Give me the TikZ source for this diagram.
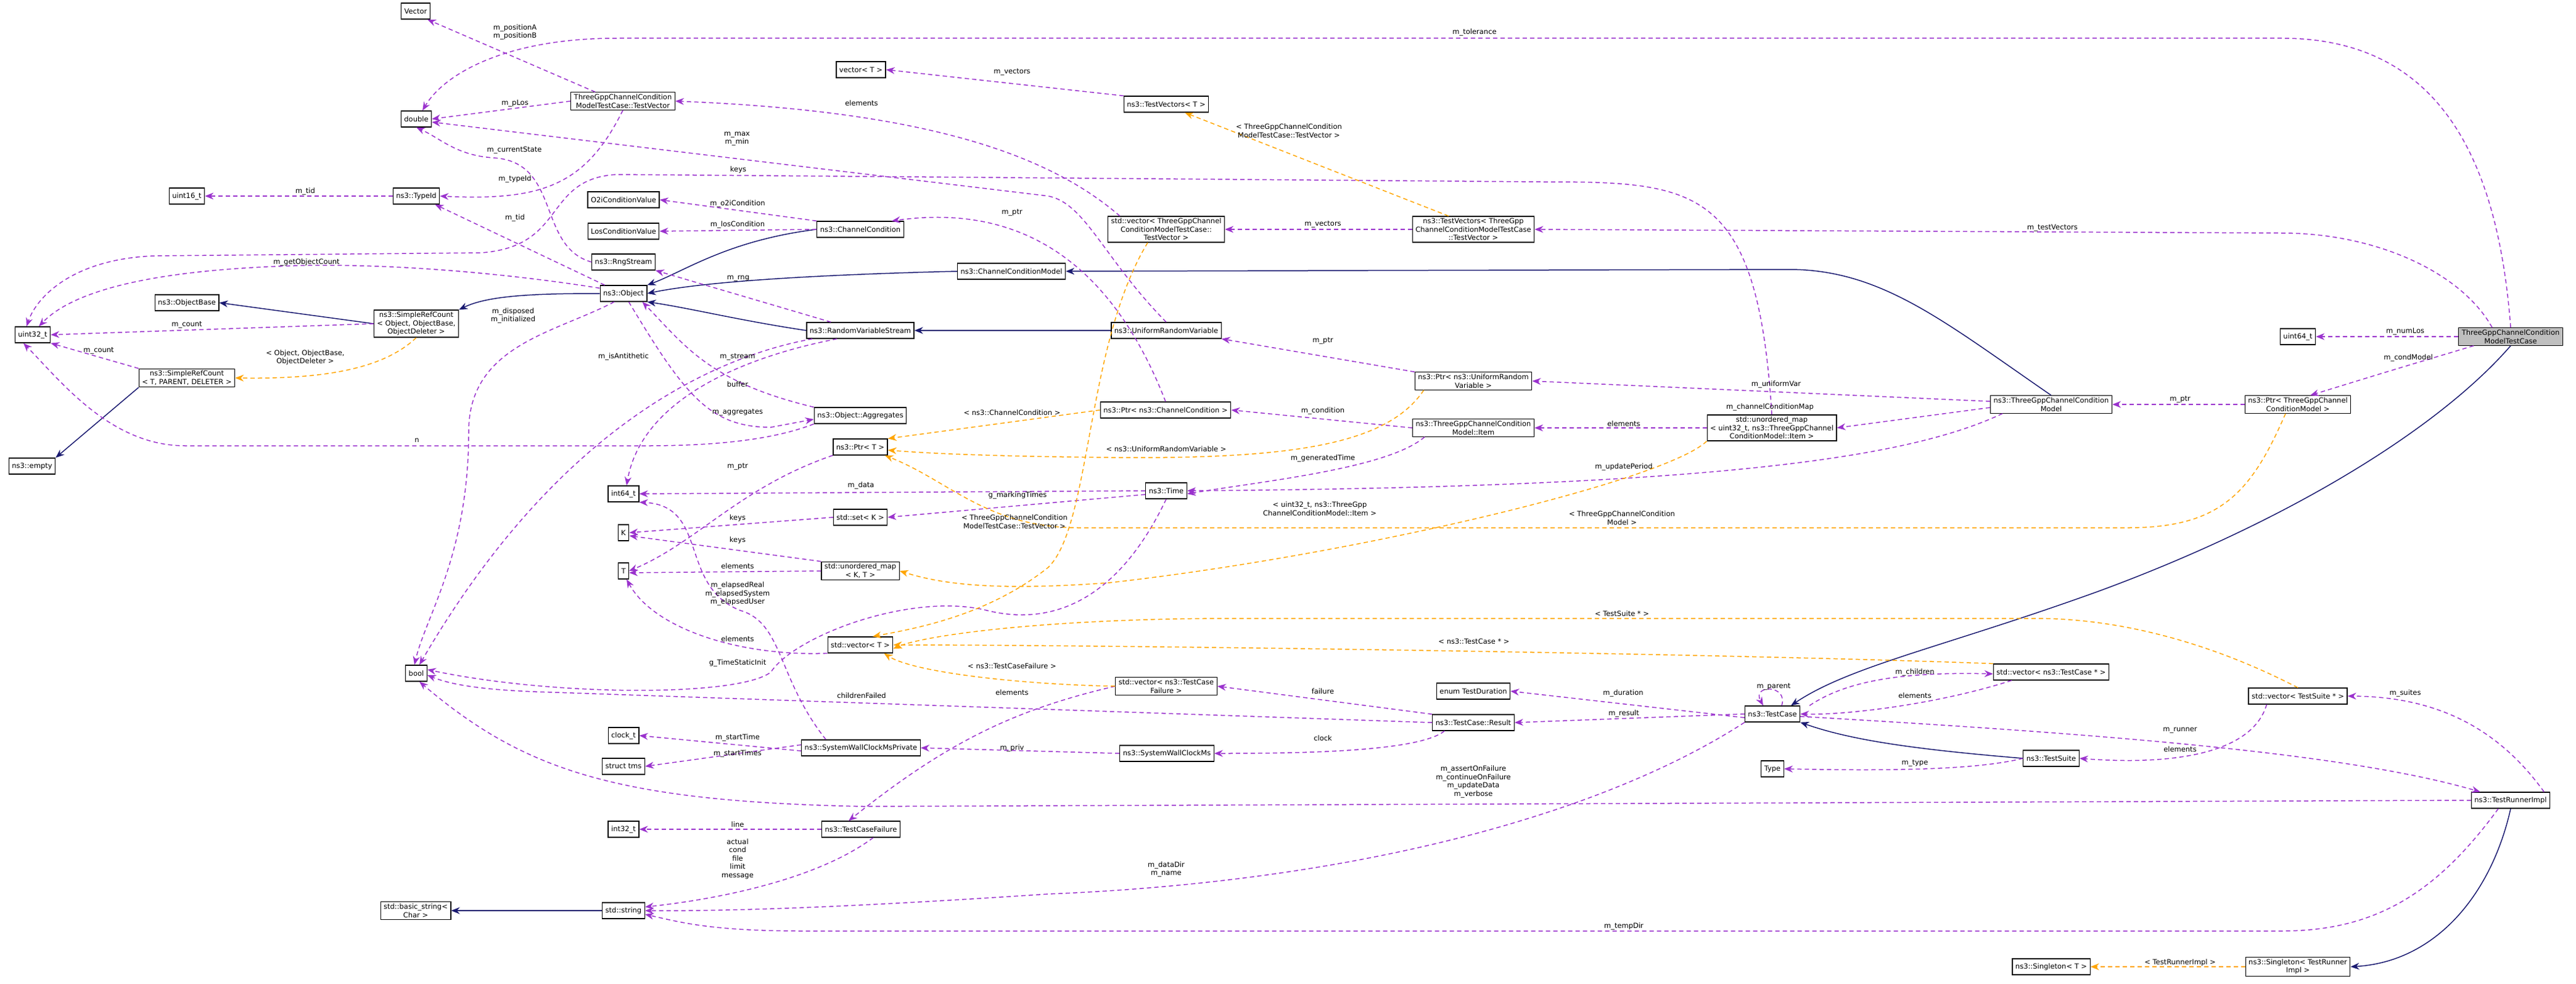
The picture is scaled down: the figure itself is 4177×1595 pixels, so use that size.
\documentclass[tikz,border=0pt]{standalone}
\usepackage{fontspec}
\setmainfont{DejaVu Sans}
\usetikzlibrary{arrows.meta}
\definecolor{purp}{RGB}{154,50,205}
\definecolor{orng}{RGB}{255,165,0}
\definecolor{navy}{RGB}{25,25,112}
\definecolor{hlgray}{RGB}{191,191,191}

\begin{document}
\begin{tikzpicture}[x=1pt, y=-1pt,
       cls/.style={draw, line width=1.2pt, fill=white, font=\fontsize{11.5}{13.5}\selectfont,
         align=center, inner xsep=5pt, inner ysep=3pt, minimum height=26pt},
       hl/.style={cls, fill=hlgray},
       lb/.style={font=\fontsize{11.5}{13.5}\selectfont, align=center, inner sep=1pt},
       mem/.style={draw=purp, dashed, dash pattern=on 7pt off 5pt, line width=1.5pt,
         -{Stealth[length=14pt, width=11pt]}},
       tpl/.style={mem, draw=orng},
       inh/.style={draw=navy, line width=1.5pt, -{Stealth[length=14pt, width=11pt]}}]
     \useasboundingbox (0,0) rectangle (4177,1595);
     % classes
     \node[cls] (vec) at (674,18) {Vector};
     \node[cls] (dbl) at (675,193) {double};
     \node[cls] (tv) at (1010,164) {ThreeGppChannelCondition\\ModelTestCase::TestVector};
     \node[cls] (u16) at (303,318) {uint16\_t};
     \node[cls] (tid) at (675,318) {ns3::TypeId};
     \node[cls] (o2i) at (1011,324) {O2iConditionValue};
     \node[cls] (los) at (1011,375) {LosConditionValue};
     \node[cls] (cc) at (1395,372) {ns3::ChannelCondition};
     \node[cls] (rng) at (1011,425) {ns3::RngStream};
     \node[cls] (obj) at (1011,476) {ns3::Object};
     \node[cls] (ob) at (303,491) {ns3::ObjectBase};
     \node[cls] (srco) at (675,525) {ns3::SimpleRefCount\\< Object, ObjectBase,\\ObjectDeleter >};
     \node[cls] (u32) at (53,543) {uint32\_t};
     \node[cls] (rvs) at (1395,536) {ns3::RandomVariableStream};
     \node[cls] (srct) at (303,613) {ns3::SimpleRefCount\\< T, PARENT, DELETER >};
     \node[cls] (emp) at (52,756) {ns3::empty};
     \node[cls] (aggs) at (1395,674) {ns3::Object::Aggregates};
     \node[cls] (i64) at (1011,801) {int64\_t};
     \node[cls] (k) at (1011,864) {K};
     \node[cls] (t) at (1011,926) {T};
     \node[cls] (bool) at (675,1092) {bool};
     \node[cls] (pt) at (1395,725) {ns3::Ptr< T >};
     \node[cls] (set) at (1395,839) {std::set< K >};
     \node[cls] (ukt) at (1395,926) {std::unordered\_map\\< K, T >};
     \node[cls] (vt) at (1395,1046) {std::vector< T >};
     \node[cls] (pcc) at (1890,665) {ns3::Ptr< ns3::ChannelCondition >};
     \node[cls] (purv) at (2389,618) {ns3::Ptr< ns3::UniformRandom\\Variable >};
     \node[cls] (item) at (2389,694) {ns3::ThreeGppChannelCondition\\Model::Item};
     \node[cls] (time) at (1891,796) {ns3::Time};
     \node[cls] (umap) at (2873,694) {std::unordered\_map\\< uint32\_t, ns3::ThreeGppChannel\\ConditionModel::Item >};
     \node[cls] (vect) at (1396,113) {vector< T >};
     \node[cls] (tvst) at (1891,169) {ns3::TestVectors< T >};
     \node[cls] (vtv) at (1891,372) {std::vector< ThreeGppChannel\\ConditionModelTestCase::\\TestVector >};
     \node[cls] (tvs) at (2389,372) {ns3::TestVectors< ThreeGpp\\ChannelConditionModelTestCase\\::TestVector >};
     \node[cls] (ccm) at (1640,440) {ns3::ChannelConditionModel};
     \node[cls] (urv) at (1891,536) {ns3::UniformRandomVariable};
     \node[hl] (main) at (4071,546) {ThreeGppChannelCondition\\ModelTestCase};
     \node[cls] (u64) at (3726,546) {uint64\_t};
     \node[cls] (tgccm) at (3326,656) {ns3::ThreeGppChannelCondition\\Model};
     \node[cls] (ptg) at (3726,656) {ns3::Ptr< ThreeGppChannel\\ConditionModel >};
     \node[cls] (vtcf) at (1891,1113) {std::vector< ns3::TestCase\\Failure >};
     \node[cls] (dur) at (2389,1121) {enum TestDuration};
     \node[cls] (res) at (2389,1172) {ns3::TestCase::Result};
     \node[cls] (swp) at (1396,1213) {ns3::SystemWallClockMsPrivate};
     \node[cls] (swc) at (1892,1222) {ns3::SystemWallClockMs};
     \node[cls] (tcf) at (1396,1345) {ns3::TestCaseFailure};
     \node[cls] (clk) at (1011,1193) {clock\_t};
     \node[cls] (tms) at (1011,1243) {struct tms};
     \node[cls] (i32) at (1011,1345) {int32\_t};
     \node[cls] (str) at (1011,1477) {std::string};
     \node[cls] (bstr) at (674,1477) {std::basic\_string<\\Char >};
     \node[cls] (tc) at (2874,1158) {ns3::TestCase};
     \node[cls] (vtc) at (3326,1090) {std::vector< ns3::TestCase * >};
     \node[cls] (vts) at (3726,1129) {std::vector< TestSuite * >};
     \node[cls] (ts) at (3326,1230) {ns3::TestSuite};
     \node[cls] (type) at (2874,1247) {Type};
     \node[cls] (tri) at (4071,1298) {ns3::TestRunnerImpl};
     \node[cls] (sgt) at (3326,1568) {ns3::Singleton< T >};
     \node[cls] (sgtri) at (3726,1568) {ns3::Singleton< TestRunner\\Impl >};

     % inheritance
     \draw[inh] (cc.west) .. controls (1180,390) and (1110,440) .. (obj.north east);
     \draw[inh] (ccm.west) .. controls (1350,445) and (1150,455) .. (obj.east);
     \draw[inh] (rvs.west) .. controls (1200,520) and (1120,500) .. (obj.south east);
     \draw[inh] (urv.west) -- (rvs.east);
     \draw[inh] (obj.west) .. controls (860,476) and (790,480) .. (srco.north east);
     \draw[inh] (srco.west) -- (ob.east);
     \draw[inh] (srct.south west) -- (emp.north east);
     \draw[inh] (tgccm.north) .. controls (3150,520) and (3050,437) .. (2900,437) -- (ccm.east);
     \draw[inh] (main.south) .. controls (3950,700) and (3700,850) .. (3400,960) .. controls (3150,1050) and (3000,1080) .. ([xshift=30pt]tc.north);
     \draw[inh] (ts.west) .. controls (3100,1215) and (3000,1200) .. (tc.south east);
     \draw[inh] (tri.south) .. controls (4040,1450) and (3950,1560) .. (sgtri.east);
     \draw[inh] (str.west) -- (bstr.east);

     % members
     \draw[mem] (main.north) .. controls (4050,250) and (3950,62) .. (3700,62) -- (1000,62) .. controls (820,62) and (720,120) .. ([xshift=10pt]dbl.north);
     \draw[mem] ([xshift=-30pt]main.north) .. controls (3990,440) and (3850,378) .. (3700,378) -- (tvs.east);
     \draw[mem] (main.west) -- (u64.east);
     \draw[mem] ([xshift=-60pt]main.south) .. controls (3880,600) .. ([xshift=20pt]ptg.north);
     \draw[mem] (ptg.west) -- (tgccm.east);
     \draw[mem] ([yshift=5pt]tgccm.west) -- (purv.east);
     \draw[mem] ([yshift=-5pt]tgccm.west) -- (umap.east);
     \draw[mem] ([xshift=20pt]tgccm.south west) .. controls (3100,740) and (2800,790) .. (time.east);
     \draw[mem] (umap.west) -- (item.east);
     \draw[mem] (item.west) -- (pcc.east);
     \draw[mem] ([xshift=20pt]item.south west) .. controls (2250,760) and (2050,780) .. ([yshift=-5pt]time.east);
     \draw[mem] (pcc.north) .. controls (1800,420) and (1650,330) .. ([xshift=-20pt]cc.north east);
     \draw[mem] (purv.north west) -- (urv.south east);
     \draw[mem] (urv.north) .. controls (1790,420) and (1760,330) .. (1700,318) -- ([yshift=-5pt]dbl.east);
     \draw[mem] (tv.west) -- (dbl.east);
     \draw[mem] ([xshift=40pt]tv.north west) -- ([xshift=-5pt]vec.south east);
     \draw[mem] (tv.south) .. controls (950,300) and (880,326) .. (tid.east);
     \draw[mem] (rng.west) .. controls (870,400) and (910,262) .. (800,256) .. controls (740,252) and (715,225) .. (dbl.south);
     \draw[mem] ([xshift=8pt]obj.north west) -- ([xshift=-8pt]tid.south east);
     \draw[mem] (tid.west) -- (u16.east);
     \draw[mem] ([yshift=-5pt]obj.north west) .. controls (800,440) and (600,425) .. (450,432) .. controls (250,440) and (120,470) .. ([xshift=10pt]u32.north);
     \draw[mem] (umap.north) .. controls (2850,300) and (2750,295) .. (2500,295) -- (1000,283) .. controls (880,290) and (920,400) .. (780,410) -- (250,415) .. controls (120,420) and (60,480) .. ([xshift=-10pt]u32.north);
     \draw[mem] (srco.west) -- (u32.east);
     \draw[mem] (srct.north west) -- (u32.south east);
     \draw[mem] (aggs.south west) .. controls (1250,715) and (1150,723) .. (1050,723) -- (300,723) .. controls (180,723) and (100,620) .. ([xshift=-15pt]u32.south);
     \draw[mem] (cc.north west) -- (o2i.east);
     \draw[mem] (cc.west) -- (los.east);
     \draw[mem] ([xshift=40pt]rvs.north west) -- (rng.south east);
     \draw[mem] ([xshift=-15pt]obj.south) .. controls (900,540) and (760,560) .. (760,700) .. controls (760,900) and (690,1000) .. ([xshift=-3pt]bool.north);
     \draw[mem] ([xshift=10pt]rvs.south west) .. controls (1150,580) and (900,700) .. ([xshift=5pt]bool.north);
     \draw[mem] ([xshift=50pt]rvs.south west) .. controls (1200,580) and (1040,650) .. ([xshift=5pt]i64.north);
     \draw[mem] (aggs.north west) .. controls (1150,620) and (1110,560) .. ([xshift=-8pt]obj.south east);
     \draw[mem] ([xshift=-30pt]obj.south east) .. controls (1110,640) and (1150,693) .. (1250,693) -- ([yshift=-6pt]aggs.west);
     \draw[mem] (pt.south west) .. controls (1200,790) and (1130,880) .. (t.east);
     \draw[mem] (time.west) -- (i64.east);
     \draw[mem] ([yshift=-6pt]time.west) -- (set.east);
     \draw[mem] (set.west) -- (k.east);
     \draw[mem] (ukt.north west) -- ([yshift=-5pt]k.east);
     \draw[mem] (ukt.west) -- ([yshift=-3pt]t.east);
     \draw[mem] (vt.south west) .. controls (1200,1065) and (1060,1020) .. ([xshift=5pt]t.south);
     \draw[mem] ([xshift=40pt]swp.north west) .. controls (1260,1100) and (1270,1010) .. (1200,990) .. controls (1100,950) and (1150,820) .. (i64.south east);
     \draw[mem] (time.south) .. controls (1800,1000) and (1680,1010) .. (1600,990) .. controls (1480,960) and (1290,1030) .. (1250,1090) .. controls (1200,1130) and (900,1130) .. ([yshift=6pt]bool.east);
     \draw[mem] (res.west) -- (900,1123) .. controls (780,1120) and (730,1110) .. ([yshift=-3pt]bool.east);
     \draw[mem] (tri.west) -- (1400,1308) .. controls (1000,1300) and (850,1250) .. ([xshift=5pt]bool.south);
     \draw[mem] ([yshift=-5pt]swp.west) -- (clk.east);
     \draw[mem] ([yshift=5pt]swp.west) -- (tms.east);
     \draw[mem] (swc.west) -- (swp.east);
     \draw[mem] (vtcf.west) .. controls (1650,1150) and (1540,1200) .. ([xshift=-20pt]tcf.north);
     \draw[mem] (tcf.west) -- (i32.east);
     \draw[mem] ([xshift=20pt]tcf.south) .. controls (1320,1430) and (1150,1460) .. ([yshift=6pt]str.east);
     \draw[mem] (tc.south west) .. controls (2600,1320) and (2200,1430) .. (1700,1450) .. controls (1400,1470) and (1200,1478) .. (str.east);
     \draw[mem] ([xshift=-20pt]tri.south) .. controls (3950,1450) and (3850,1510) .. (3700,1510) -- (1300,1510) .. controls (1150,1510) and (1100,1495) .. ([yshift=-6pt]str.east);
     \draw[mem] (res.north west) -- (vtcf.east);
     \draw[mem] ([xshift=20pt]res.south west) .. controls (2300,1220) and (2100,1222) .. (swc.east);
     \draw[mem] ([yshift=-6pt]tc.west) -- (dur.east);
     \draw[mem] (tc.west) -- (res.east);
     \draw[mem] ([xshift=15pt]tc.north) .. controls (2900,1110) and (2840,1110) .. ([xshift=-15pt]tc.north);
     \draw[mem] ([xshift=15pt]tc.north east) .. controls (3000,1100) and (3100,1090) .. ([yshift=-3pt]vtc.west);
     \draw[mem] ([xshift=30pt]vtc.south west) .. controls (3150,1140) and (3000,1160) .. (tc.east);
     \draw[mem] (ts.west) .. controls (3200,1250) and (3050,1250) .. (type.east);
     \draw[mem] ([xshift=30pt]vts.south west) .. controls (3650,1230) and (3500,1240) .. (ts.east);
     \draw[mem] ([xshift=-10pt]tri.north east) .. controls (4050,1180) and (3950,1130) .. (vts.east);
     \draw[mem] ([yshift=-4pt]tc.east) .. controls (3400,1190) and (3800,1220) .. ([xshift=15pt]tri.north west);
     \draw[mem] (tvs.west) -- (vtv.east);
     \draw[mem] ([xshift=20pt]vtv.north west) .. controls (1700,250) and (1500,180) .. (tv.east);
     \draw[mem] (tvst.north west) -- (vect.east);

     % templates
     \draw[tpl] (srco.south) .. controls (620,600) and (520,615) .. (srct.east);
     \draw[tpl] ([xshift=-40pt]tvs.north) -- ([xshift=30pt]tvst.south);
     \draw[tpl] (pcc.west) -- (pt.north east);
     \draw[tpl] ([xshift=15pt]purv.south west) .. controls (2250,720) and (2100,745) .. (1800,742) .. controls (1600,740) and (1500,735) .. ([yshift=-5pt]pt.east);
     \draw[tpl] ([xshift=-20pt]ptg.south) .. controls (3650,800) and (3600,856) .. (3450,856) -- (1750,856) .. controls (1600,856) and (1540,780) .. ([xshift=-5pt]pt.south east);
     \draw[tpl] ([xshift=-30pt]vtv.south) .. controls (1760,560) and (1770,850) .. (1700,920) .. controls (1600,1000) and (1480,1020) .. ([xshift=20pt]vt.north);
     \draw[tpl] (umap.south west) .. controls (2700,780) and (2200,900) .. (1800,945) .. controls (1600,960) and (1520,945) .. (ukt.east);
     \draw[tpl] (vts.north) .. controls (3600,1050) and (3450,1003) .. (3300,1003) -- (2000,1003) .. controls (1700,1003) and (1500,1030) .. ([yshift=-6pt]vt.east);
     \draw[tpl] (vtc.north west) .. controls (2800,1060) and (1800,1046) .. (vt.east);
     \draw[tpl] (vtcf.west) .. controls (1650,1110) and (1480,1090) .. ([xshift=-15pt]vt.south east);
     \draw[tpl] (sgtri.west) -- (sgt.east);

     % labels
     \node[lb] (l1) at (2391,52) {m\_tolerance};
     \node[lb] (l2) at (835,52) {m\_positionA\\m\_positionB};
     \node[lb] (l3) at (835,168) {m\_pLos};
     \node[lb] (l4) at (1195,225) {m\_max\\m\_min};
     \node[lb] (l5) at (834,244) {m\_currentState};
     \node[lb] (l6) at (1197,275) {keys};
     \node[lb] (l7) at (835,290) {m\_typeId};
     \node[lb] (l8) at (495,310) {m\_tid};
     \node[lb] (l9) at (835,353) {m\_tid};
     \node[lb] (l10) at (1196,330) {m\_o2iCondition};
     \node[lb] (l11) at (1196,364) {m\_losCondition};
     \node[lb] (l12) at (497,425) {m\_getObjectCount};
     \node[lb] (l13) at (1197,452) {m\_rng};
     \node[lb] (l14) at (832,512) {m\_disposed\\m\_initialized};
     \node[lb] (l15) at (303,527) {m\_count};
     \node[lb] (l16) at (160,569) {m\_count};
     \node[lb] (l17) at (495,580) {< Object, ObjectBase,\\ObjectDeleter >};
     \node[lb] (l18) at (1011,578) {m\_isAntithetic};
     \node[lb] (l19) at (1196,579) {m\_stream};
     \node[lb] (l20) at (1196,623) {buffer};
     \node[lb] (l21) at (1196,669) {m\_aggregates};
     \node[lb] (l22) at (676,714) {n};
     \node[lb] (l23) at (1196,757) {m\_ptr};
     \node[lb] (l24) at (1396,787) {m\_data};
     \node[lb] (l25) at (1196,840) {keys};
     \node[lb] (l26) at (1196,876) {keys};
     \node[lb] (l27) at (1196,918) {elements};
     \node[lb] (l28) at (1196,963) {m\_elapsedReal\\m\_elapsedSystem\\m\_elapsedUser};
     \node[lb] (l29) at (1196,1036) {elements};
     \node[lb] (l30) at (1196,1075) {g\_TimeStaticInit};
     \node[lb] (l31) at (1650,803) {g\_markingTimes};
     \node[lb] (l32) at (1397,1128) {childrenFailed};
     \node[lb] (l33) at (1641,1123) {elements};
     \node[lb] (l34) at (1641,1213) {m\_priv};
     \node[lb] (l35) at (2145,1197) {clock};
     \node[lb] (l36) at (2145,1121) {failure};
     \node[lb] (l37) at (2632,1124) {m\_duration};
     \node[lb] (l38) at (2633,1157) {m\_result};
     \node[lb] (l39) at (2389,1268) {m\_assertOnFailure\\m\_continueOnFailure\\m\_updateData\\m\_verbose};
     \node[lb] (l40) at (1891,1410) {m\_dataDir\\m\_name};
     \node[lb] (l41) at (2633,1502) {m\_tempDir};
     \node[lb] (l42) at (1196,1337) {line};
     \node[lb] (l43) at (1196,1393) {actual\\cond\\file\\limit\\message};
     \node[lb] (l44) at (1196,1196) {m\_startTime};
     \node[lb] (l45) at (1196,1222) {m\_startTimes};
     \node[lb] (l46) at (1641,345) {m\_ptr};
     \node[lb] (l47) at (2145,553) {m\_ptr};
     \node[lb] (l48) at (2145,666) {m\_condition};
     \node[lb] (l49) at (2145,743) {m\_generatedTime};
     \node[lb] (l50) at (2633,687) {elements};
     \node[lb] (l51) at (2633,757) {m\_updatePeriod};
     \node[lb] (l52) at (2880,623) {m\_uniformVar};
     \node[lb] (l53) at (2870,660) {m\_channelConditionMap};
     \node[lb] (l54) at (3535,648) {m\_ptr};
     \node[lb] (l55) at (3900,538) {m\_numLos};
     \node[lb] (l56) at (3905,580) {m\_condModel};
     \node[lb] (l57) at (3328,370) {m\_testVectors};
     \node[lb] (l58) at (2145,364) {m\_vectors};
     \node[lb] (l59) at (1641,117) {m\_vectors};
     \node[lb] (l60) at (1397,167) {elements};
     \node[lb] (l61) at (2876,1114) {m\_parent};
     \node[lb] (l62) at (3105,1090) {m\_children};
     \node[lb] (l63) at (3105,1128) {elements};
     \node[lb] (l64) at (3535,1185) {m\_runner};
     \node[lb] (l65) at (3535,1215) {elements};
     \node[lb] (l66) at (3105,1238) {m\_type};
     \node[lb] (l67) at (3900,1124) {m\_suites};
     \node[lb] (l68) at (2090,212) {< ThreeGppChannelCondition\\ModelTestCase::TestVector >};
     \node[lb] (l69) at (1641,669) {< ns3::ChannelCondition >};
     \node[lb] (l70) at (1891,728) {< ns3::UniformRandomVariable >};
     \node[lb] (l71) at (1645,846) {< ThreeGppChannelCondition\\ModelTestCase::TestVector >};
     \node[lb] (l72) at (2140,825) {< uint32\_t, ns3::ThreeGpp\\ChannelConditionModel::Item >};
     \node[lb] (l73) at (2630,840) {< ThreeGppChannelCondition\\Model >};
     \node[lb] (l74) at (2630,995) {< TestSuite * >};
     \node[lb] (l75) at (2390,1040) {< ns3::TestCase * >};
     \node[lb] (l76) at (1641,1080) {< ns3::TestCaseFailure >};
     \node[lb] (l77) at (3535,1561) {< TestRunnerImpl >};
   \end{tikzpicture}
\end{document}
